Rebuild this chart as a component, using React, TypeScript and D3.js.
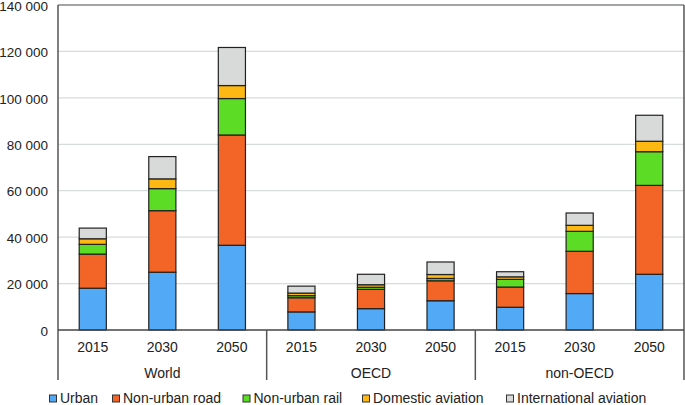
import React from "react";
import * as d3 from "d3";

const groups = ["World", "OECD", "non-OECD"];
const years = ["2015", "2030", "2050"];
const seriesNames = ["Urban", "Non-urban road", "Non-urban rail", "Domestic aviation", "International aviation"];
const seriesColors = ["#52a9f5", "#f26526", "#5cdc24", "#fdb814", "#d8d9d9"];

// values per category (group-year), in order World 2015..2050, OECD..., non-OECD...
const urban = [18000, 24900, 36500, 7800, 9200, 12600, 9800, 15700, 24000];
const nonUrbanRoad = [14700, 26500, 47500, 6100, 8300, 8600, 8700, 18200, 38300];
const nonUrbanRail = [4200, 9500, 15700, 900, 900, 1000, 3300, 8600, 14500];
const domesticAviation = [2400, 4200, 5600, 1100, 1100, 1700, 1100, 2600, 4500];
const internationalAviation = [4600, 9600, 16400, 3000, 4500, 5400, 2200, 5300, 11200];

const yTicks = [0, 20000, 40000, 60000, 80000, 100000, 120000, 140000];

const W = 685, H = 405;
const L = 58, R = 684, T = 5, B = 330;
const FONT = "'Liberation Sans', Arial, sans-serif";

export default function App() {
  const cats = groups.flatMap((g) => years.map((y) => `${g}-${y}`));
  const x = d3.scaleBand().domain(cats).range([L, R]).paddingInner(0.61).paddingOuter(0.305);
  const y = d3.scaleLinear().domain([0, 140000]).range([B, T]);
  const rows = cats.map((c, i) => ({
    cat: c,
    s0: urban[i], s1: nonUrbanRoad[i], s2: nonUrbanRail[i], s3: domesticAviation[i], s4: internationalAviation[i],
  }));
  const stack = d3.stack<any>().keys(["s0", "s1", "s2", "s3", "s4"]);
  const layers = stack(rows);
  const step = (R - L) / cats.length;
  const fmt = (v: number) => d3.format(",")(v).replace(/,/g, " ");

  const legendX = [49.5, 112.5, 243, 362.5, 506.5];

  return (
    <svg width={W} height={H} style={{ position: "absolute", left: 0, top: 0 }} fontFamily={FONT}>
      <rect x={0} y={0} width={W} height={H} fill="#fff" />
      {yTicks.filter((t) => t > 0).map((t) => (
        <line key={t} x1={L} x2={R} y1={y(t)} y2={y(t)} stroke="#d6dcdc" strokeWidth={1.2} />
      ))}
      {yTicks.map((t) => (
        <text key={"t" + t} x={48} y={y(t) + 1} dy="0.35em" textAnchor="end" fontSize={13.5} fill="#222">
          {fmt(t)}
        </text>
      ))}
      {layers.map((layer, li) =>
        layer.map((d, i) => (
          <rect
            key={li + "-" + i}
            x={x(cats[i])!}
            width={x.bandwidth()}
            y={y(d[1])}
            height={y(d[0]) - y(d[1])}
            fill={seriesColors[li]}
            stroke="#222"
            strokeWidth={1.2}
          />
        ))
      )}
      {/* frame */}
      <line x1={L} x2={R} y1={T} y2={T} stroke="#888d8d" strokeWidth={1.5} />
      <line x1={R} x2={R} y1={T} y2={380} stroke="#555" strokeWidth={1.5} />
      <line x1={L} x2={L} y1={T} y2={380} stroke="#555" strokeWidth={1.5} />
      <line x1={L} x2={R} y1={B} y2={B} stroke="#444" strokeWidth={1.5} />
      {[1, 2].map((k) => (
        <line key={"sep" + k} x1={L + step * 3 * k} x2={L + step * 3 * k} y1={B} y2={380} stroke="#555" strokeWidth={1.5} />
      ))}
      {cats.map((c, i) => (
        <text key={"y" + c} x={x(c)! + x.bandwidth() / 2} y={347} dy="0.35em" textAnchor="middle" fontSize={14} fill="#222">
          {years[i % 3]}
        </text>
      ))}
      {groups.map((g, k) => (
        <text key={g} x={L + step * (3 * k + 1.5)} y={373} dy="0.35em" textAnchor="middle" fontSize={14} fill="#222">
          {g}
        </text>
      ))}
      {seriesNames.map((s, i) => (
        <g key={s}>
          <rect x={legendX[i]} y={395} width={7} height={7} fill={seriesColors[i]} stroke="#333" strokeWidth={1} />
          <text x={legendX[i] + 10.5} y={398.5} dy="0.35em" fontSize={14} fill="#222">
            {s}
          </text>
        </g>
      ))}
    </svg>
  );
}
